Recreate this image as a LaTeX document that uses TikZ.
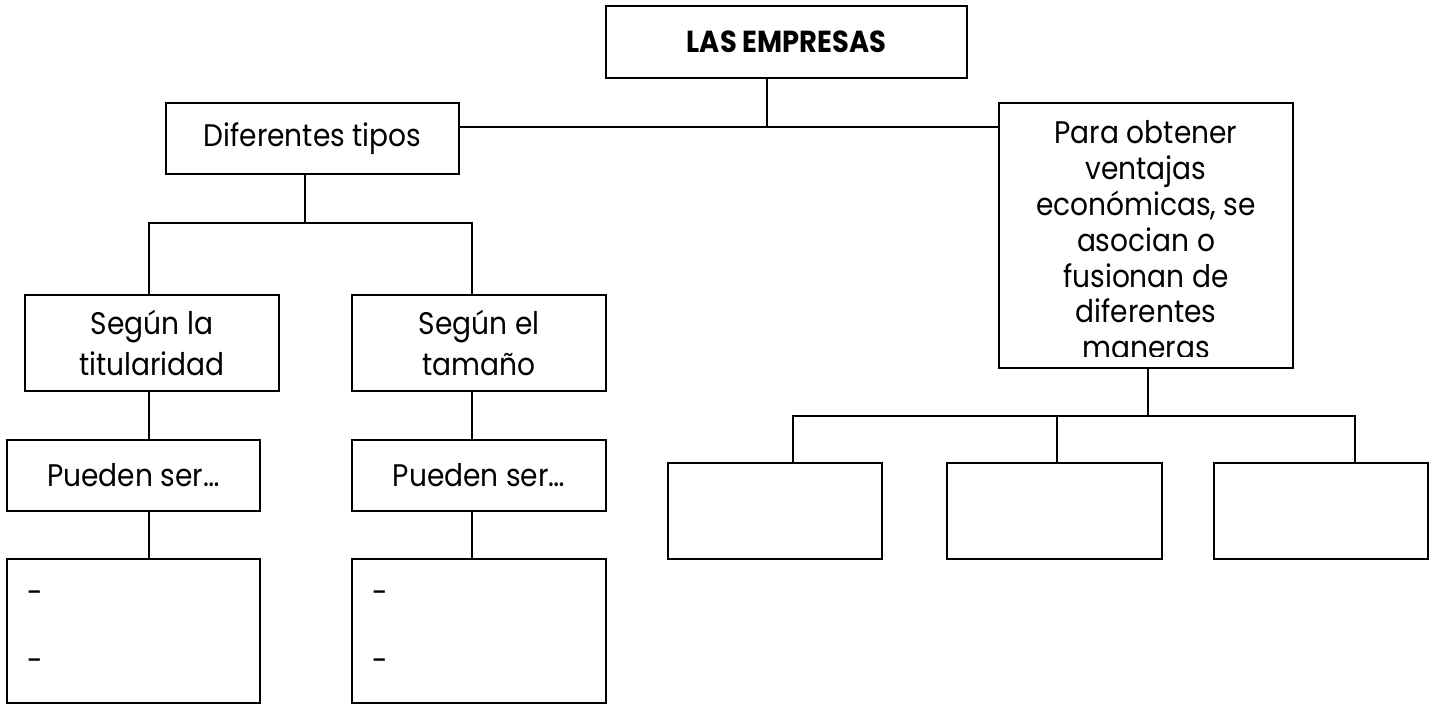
\documentclass[tikz,border=0pt]{standalone}
\usepackage{fontspec}
\setmainfont{Poppins}[FakeStretch=0.9]
\begin{document}
\begin{tikzpicture}[x=0.5pt,y=-0.5pt,
  box/.style={draw,line width=1pt,inner sep=0pt,rectangle,align=center,font=\fontsize{15.6}{20.5}\selectfont},
  lbl/.style={inner sep=0pt,font=\fontsize{15.6}{20.5}\selectfont},
  conn/.style={line width=1pt,line join=miter}]
\useasboundingbox (0,0) rectangle (1431,704);
% boxes
\node[box,minimum width=180.5pt,minimum height=36pt,font=\fontsize{15.2}{20.5}\selectfont\bfseries] (top) at (786.5,42) {LAS EMPRESAS};
\node[box,minimum width=146.5pt,minimum height=35.5pt] (dif) at (312.5,138.5) {Diferentes tipos};
\node[box,minimum width=147pt,minimum height=132.5pt] (para) at (1146,235.5) {};
\node[box,minimum width=127pt,minimum height=48pt] (segla) at (152,343) {Según la\\titularidad};
\node[box,minimum width=127pt,minimum height=48pt] (segel) at (479,343) {Según el\\tamaño};
\node[box,minimum width=126.5pt,minimum height=35.5pt] (pue1) at (133.5,475.5) {Pueden ser…};
\node[box,minimum width=127pt,minimum height=35.5pt] (pue2) at (479,475.5) {Pueden ser…};
\node[box,minimum width=126.5pt,minimum height=72pt] (list1) at (133.5,631) {};
\node[box,minimum width=127pt,minimum height=72pt] (list2) at (479,631) {};
\node[box,minimum width=107pt,minimum height=48pt] (r1) at (775,511) {};
\node[box,minimum width=107.5pt,minimum height=48pt] (r2) at (1054.5,511) {};
\node[box,minimum width=107pt,minimum height=48pt] (r3) at (1321,511) {};
% clipped text of the right box
\begin{scope}
\clip (999,103) rectangle (1293,357);
\node[lbl,anchor=base] (paratxt) at (1146,144) {\parbox[t]{150pt}{\centering\fontsize{15.6}{17.9}\selectfont Para obtener\\ ventajas\\ económicas, se\\ asocian o\\ fusionan de\\ diferentes\\ maneras}};
\end{scope}
% dashes
\node[lbl,anchor=base west] (d1) at (27,604) {-};
\node[lbl,anchor=base west] (d2) at (27,672) {-};
\node[lbl,anchor=base west] (d3) at (372,604) {-};
\node[lbl,anchor=base west] (d4) at (372,672) {-};
% junctions
\coordinate (jt) at (767,127);
\coordinate (jd) at (305,223);
\coordinate (jl) at (149,223);
\coordinate (jr) at (472,223);
\coordinate (jp) at (1148,416);
\coordinate (ja) at (793,416);
\coordinate (jb) at (1057,416);
\coordinate (jc) at (1355,416);
% connectors
\draw[conn] (top.south -| jt) -- (jt);
\draw[conn] (dif.east |- jt) -- (para.west |- jt);
\draw[conn] (dif.south -| jd) -- (jd);
\draw[conn] (segla.north -| jl) -- (jl) -- (jr) -- (segel.north -| jr);
\draw[conn] (segla.south -| jl) -- (pue1.north -| jl);
\draw[conn] (pue1.south -| jl) -- (list1.north -| jl);
\draw[conn] (segel.south -| jr) -- (pue2.north -| jr);
\draw[conn] (pue2.south -| jr) -- (list2.north -| jr);
\draw[conn] (para.south -| jp) -- (jp);
\draw[conn] (r1.north -| ja) -- (ja) -- (jc) -- (r3.north -| jc);
\draw[conn] (jb) -- (r2.north -| jb);
\end{tikzpicture}
\end{document}
